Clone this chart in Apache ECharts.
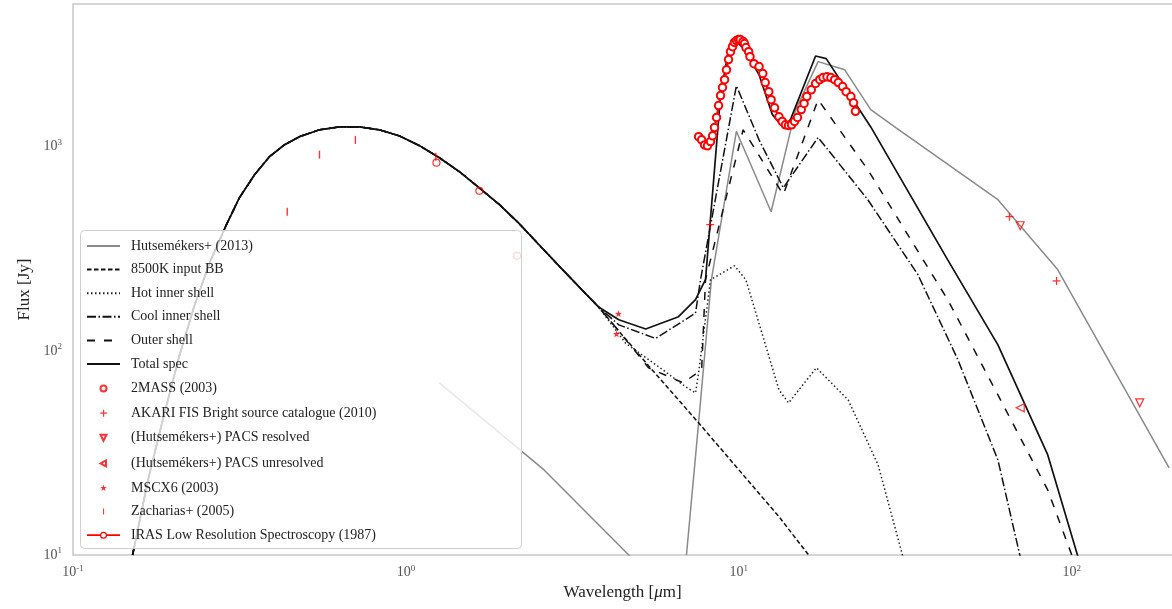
<!DOCTYPE html>
<html>
<head>
<meta charset="utf-8">
<script src="https://cdn.jsdelivr.net/npm/echarts@6/dist/echarts.min.js"></script>
<style>
  html, body { margin: 0; padding: 0; background: #fff; }
  #chart { width: 1172px; height: 609px; }
</style>
</head>
<body>
<div id="chart"></div>
<script>
// Spectral energy distribution: wavelength in micron, flux density in Jy.

// Stellar photosphere (shared rising part of the model curves)
const starLam  = [0.151, 0.168, 0.186, 0.209, 0.232, 0.258, 0.289, 0.316, 0.351, 0.389, 0.431, 0.479, 0.550, 0.631, 0.725, 0.832, 0.955, 1.10, 1.26, 1.45, 1.66, 1.91, 2.19, 2.51, 2.88, 3.31, 3.79];
const starFlux = [10,    23.3,  45.9,  95.5,  168,   273,   415,   562,   729,   893,   1020,  1120,  1210,  1250,  1250,  1210,  1130,  1010, 883,  753,  629,  520,  420,  331,  261,  206,  164];

// 8500K input blackbody, continuing on the Rayleigh-Jeans tail
const bbTailLam  = [4.36, 5.36, 7.57, 13.2, 16.2, 19.0];
const bbTailFlux = [125,  84.4, 44.4, 15.4, 10.0, 7.5];

// Hutsemékers+ (2013) model, two pieces
const hutsALam  = [1.26, 2.60, 4.67, 5.3];
const hutsAFlux = [69.7, 26.1, 10.0, 8.0];
const hutsBLam  = [6.96, 7.57, 8.27, 9.83, 12.5, 14.8, 17.3, 20.8, 24.9, 29.6, 60.0, 90.7, 196];
const hutsBFlux = [10.0, 44.4, 223,  1190, 480,  1510, 2610, 2380, 1520, 1240, 550,  250,  26.7];

// Hot inner shell
const hotLam  = [4.57, 5.74, 6.92, 7.41, 7.57, 8.22, 9.70, 10.5, 13.2, 14.1, 17.1, 21.3, 26.2, 31.0, 34.0];
const hotFlux = [109,  83.6, 66.7, 62.2, 78,   223,  261,  223,  64.4, 55.6, 82.6, 57.5, 27.6, 10.0, 6.5];

// Cool inner shell
const coolLam  = [4.36, 5.62, 7.41, 7.67, 9.83, 11.5, 13.6, 17.3, 24.4, 34.5, 45.5, 60.0, 69.8, 75.0];
const coolFlux = [134,  115,  153,  223,  1990, 1080, 629,  1110, 550,  236,  90.4, 29.2, 10.0, 6.0];

// Outer shell
const outerLam  = [4.36, 5.36, 6.80, 7.73, 7.94, 10.3, 13.6, 17.3, 24.4, 42.4, 60.0, 84.7, 100, 108];
const outerFlux = [125,  82.5, 69.7, 80.7, 223,  1210, 582,  1700, 771,  178,  60.8, 20.8, 10,  6.5];

// Total model spectrum
const totalLam  = [4.36, 5.25, 6.59, 7.41, 7.94, 8.81, 9.31, 9.84, 10.4, 11.5, 12.6, 13.6, 14.3, 17.0, 18.3, 24.9, 42.4, 60.0, 84.7, 104, 112];
const totalFlux = [142,  128,  147,  178,  223,  1780, 2985, 3280, 2985, 2250, 1440, 1240, 1360, 2780, 2700, 1250, 279,  107,  30.9, 10,  6.5];

// Photometry
const twoMassLam   = [1.235, 1.662, 2.159];
const twoMassFlux  = [835,   608,   292];
const akariLam     = [8.2,  65,  90];
const akariFlux    = [415,  454, 220];
const pacsResLam   = [70,  160];
const pacsResFlux  = [410, 55.6];
const pacsUnresLam = [70];
const pacsUnresFlux= [52.6];
const msxLam       = [4.29, 4.35];
const msxFlux      = [121,  152];
const zachLam      = [0.44, 0.55, 0.705, 1.23];
const zachFlux     = [480,  914,  1080,  893];

// IRAS Low Resolution Spectrum
const lrsLam  = [7.57, 7.73, 7.89, 8.05, 8.22, 8.34, 8.45, 8.57, 8.69, 8.81, 8.93, 9.06, 9.18, 9.31, 9.44, 9.57, 9.70, 9.84, 9.98, 10.1, 10.3, 10.4, 10.5, 10.7,
                 10.8, 11.1, 11.5, 11.8, 12.0, 12.3, 12.5, 12.8, 13.2, 13.5, 13.8, 14.1, 14.4, 14.7, 15.0, 15.4, 15.7, 16.0, 16.5, 17.0, 17.5, 17.9, 18.4, 18.9, 19.4, 19.9, 20.5, 21.0, 21.7, 22.1, 22.4];
const lrsFlux = [1120, 1080, 1020, 1010, 1060, 1130, 1240, 1390, 1590, 1780, 1950, 2130, 2380, 2670, 2920, 3090, 3240, 3310, 3350, 3350, 3280, 3200, 3060, 2920,
                 2760, 2550, 2470, 2280, 2060, 1860, 1700, 1550, 1400, 1330, 1280, 1270, 1280, 1330, 1390, 1520, 1630, 1760, 1900, 2040, 2130, 2180, 2200, 2180, 2130, 2060, 1970, 1860, 1760, 1640, 1490];

const zip = (xs, ys) => xs.map((x, i) => [x, ys[i]]);
const withStar = (xs, ys) => zip(starLam.concat(xs), starFlux.concat(ys));

const RED = '#ff0000';
const SERIF = '"Liberation Serif", "DejaVu Serif", serif';

const plusPath  = 'path://M4.2,0h1.6v10h-1.6z M0,4.2h10v1.6h-10z';
const barPath   = 'path://M0,0h1.4v10h-1.4z';
const starPath  = 'path://M5,0 L6.2,3.6 L10,3.8 L7,6.1 L8.1,10 L5,7.7 L1.9,10 L3,6.1 L0,3.8 L3.8,3.6 Z';
const triDown   = 'path://M0,0 L10,0 L5,9 Z';
const triLeft   = 'path://M10,0 L10,10 L1,5 Z';

// legend icons padded to the legend item box so the markers stay small
const pad = 'M0,0 M33,14 ';
const iconCircle = 'path://' + pad + 'M19.5,7 A3,3 0 1 1 13.5,7 A3,3 0 1 1 19.5,7 Z';
const iconPlus   = 'path://' + pad + 'M16,3.5h1.2v7h-1.2z M13.1,6.4h7v1.2h-7z';
const iconTriD   = 'path://' + pad + 'M13.5,4 L19.5,4 L16.5,10 Z';
const iconTriL   = 'path://' + pad + 'M19,4 L19,10 L13.5,7 Z';
const iconStar   = 'path://' + pad + 'M16.5,3.6 L17.3,6 L19.7,6.1 L17.8,7.6 L18.5,10 L16.5,8.6 L14.5,10 L15.2,7.6 L13.3,6.1 L15.7,6 Z';
const iconBar    = 'path://' + pad + 'M16,4h1.1v6h-1.1z';
// line with a ring in the middle (outer contour clockwise, inner one reversed)
const iconLrs    = 'path://' + pad + 'M0,6.1h13v1.8h-13z M20,6.1h13v1.8h-13z ' +
                   'M20,7 A3.5,3.5 0 1 1 13,7 A3.5,3.5 0 1 1 20,7 Z M18.8,7 A2.3,2.3 0 1 0 14.2,7 A2.3,2.3 0 1 0 18.8,7 Z';

const lineSeries = (name, data, color, type, z, width) => ({
  name, type: 'line', data, showSymbol: false, symbol: 'none', clip: true, z: z || 2,
  lineStyle: { color, width: width || 1.5, type }, itemStyle: { color }
});

const hollow = { color: 'rgba(255,255,255,0)', borderColor: RED, borderWidth: 1.2 };
const noSym = { itemStyle: { opacity: 0 } };
const tickFmt = v => { const e = Math.round(Math.log10(v)); return Math.abs(Math.log10(v) - e) < 1e-6 ? '{b|10}{s|' + e + '}' : ''; };
const tickRich = { b: { fontFamily: SERIF, fontSize: 14, color: '#555' }, s: { fontFamily: SERIF, fontSize: 9, color: '#555', verticalAlign: 'top', padding: [0, 0, 8, 0] } };

const chart = echarts.init(document.getElementById('chart'));
chart.setOption({
  animation: false,
  backgroundColor: '#fff',
  grid: { left: 73, right: -3, top: 4, bottom: 54, show: false },
  xAxis: {
    type: 'log', logBase: 10, min: 0.1, max: 200,
    name: 'Wavelength [{i|μ}m]', nameLocation: 'middle', nameGap: 25,
    nameTextStyle: { fontFamily: SERIF, fontSize: 17, color: '#222',
      rich: { i: { fontFamily: SERIF, fontStyle: 'italic', fontSize: 17, color: '#222' } } },
    axisLine: { show: true, lineStyle: { color: '#c8c8c8', width: 1.5 } },
    axisTick: { show: false }, splitLine: { show: false },
    axisLabel: { margin: 9, showMaxLabel: false, formatter: tickFmt, rich: tickRich }
  },
  yAxis: {
    type: 'log', logBase: 10, min: 10, max: 5000,
    name: 'Flux [Jy]', nameLocation: 'middle', nameGap: 35, nameRotate: 90,
    nameTextStyle: { fontFamily: SERIF, fontSize: 17, color: '#222', padding: [0, 0, 0, -20] },
    axisLine: { show: true, lineStyle: { color: '#c8c8c8', width: 1.5 } },
    axisTick: { show: false }, splitLine: { show: false },
    axisLabel: { margin: 11, showMaxLabel: false, formatter: tickFmt, rich: tickRich }
  },
  graphic: [
    { type: 'line', shape: { x1: 73, y1: 4, x2: 1172, y2: 4 }, style: { stroke: '#c8c8c8', lineWidth: 1.5 }, z: 1 },
    { type: 'rect', shape: { x: 80.5, y: 230.5, width: 441, height: 318, r: 4 }, style: { fill: 'rgba(255,255,255,0.8)', stroke: '#d0d0d0', lineWidth: 1 }, z: 50 }
  ],
  legend: {
    orient: 'vertical', left: 86, top: 239, z: 60,
    itemWidth: 33, itemHeight: 14, itemGap: 9.6, padding: 0,
    textStyle: { fontFamily: SERIF, fontSize: 14, color: '#222', padding: [0, 0, 0, 6] },
    data: [
      { name: 'Hutsemékers+ (2013)', ...noSym },
      { name: '8500K input BB', ...noSym },
      { name: 'Hot inner shell', ...noSym },
      { name: 'Cool inner shell', ...noSym },
      { name: 'Outer shell', ...noSym },
      { name: 'Total spec', ...noSym },
      { name: '2MASS (2003)', icon: iconCircle },
      { name: 'AKARI FIS Bright source catalogue (2010)', icon: iconPlus },
      { name: '(Hutsemékers+) PACS resolved', icon: iconTriD },
      { name: '(Hutsemékers+) PACS unresolved', icon: iconTriL },
      { name: 'MSCX6 (2003)', icon: iconStar },
      { name: 'Zacharias+ (2005)', icon: iconBar },
      { name: 'IRAS Low Resolution Spectroscopy (1987)', icon: iconLrs, itemStyle: { color: RED, borderWidth: 0 } }
    ]
  },
  series: [
    lineSeries('Hutsemékers+ (2013)', zip(hutsBLam, hutsBFlux), '#8a8a8a', 'solid', 2),
    lineSeries('Hutsemékers+ (2013)', zip(hutsALam, hutsAFlux), '#8a8a8a', 'solid', 2),
    lineSeries('8500K input BB', withStar(bbTailLam, bbTailFlux), '#111', [4.5, 2.5], 3),
    lineSeries('Hot inner shell', withStar(hotLam, hotFlux), '#222', [1.5, 2.5], 3),
    lineSeries('Cool inner shell', withStar(coolLam, coolFlux), '#111', [9, 2.5, 1.5, 2.5], 3),
    lineSeries('Outer shell', withStar(outerLam, outerFlux), '#111', [8, 9], 3),
    lineSeries('Total spec', withStar(totalLam, totalFlux), '#111', 'solid', 4, 1.7),
    { name: '2MASS (2003)', type: 'scatter', data: zip(twoMassLam, twoMassFlux), symbol: 'circle', symbolSize: 7, itemStyle: hollow, z: 5 },
    { name: 'AKARI FIS Bright source catalogue (2010)', type: 'scatter', data: zip(akariLam, akariFlux), symbol: plusPath, symbolSize: 8, itemStyle: { color: RED }, z: 5 },
    { name: '(Hutsemékers+) PACS resolved', type: 'scatter', data: zip(pacsResLam, pacsResFlux), symbol: triDown, symbolSize: 8, itemStyle: hollow, z: 5 },
    { name: '(Hutsemékers+) PACS unresolved', type: 'scatter', data: zip(pacsUnresLam, pacsUnresFlux), symbol: triLeft, symbolSize: 8, itemStyle: hollow, z: 5 },
    { name: 'MSCX6 (2003)', type: 'scatter', data: zip(msxLam, msxFlux), symbol: starPath, symbolSize: 7, itemStyle: { color: RED }, z: 5 },
    { name: 'Zacharias+ (2005)', type: 'scatter', data: zip(zachLam, zachFlux), symbol: barPath, symbolSize: [1.4, 8], itemStyle: { color: RED }, z: 5 },
    { name: 'IRAS Low Resolution Spectroscopy (1987)', type: 'line', data: zip(lrsLam, lrsFlux), symbol: 'emptyCircle', symbolSize: 7.5, showSymbol: true, showAllSymbol: true, z: 6,
      lineStyle: { color: RED, width: 2 }, itemStyle: { color: RED, borderColor: RED, borderWidth: 1.2 } }
  ]
});
</script>
</body>
</html>
